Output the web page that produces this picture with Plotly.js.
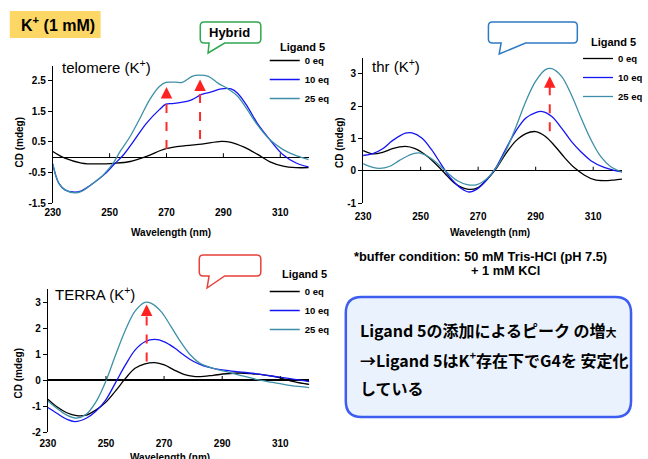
<!DOCTYPE html>
<html><head><meta charset="utf-8">
<script src="https://cdn.plot.ly/plotly-3.0.1.min.js"></script>
<style>html,body{margin:0;padding:0;background:#fff;}#chart{width:648px;height:459px;}</style>
</head><body><div id="chart"></div>
<script>
// ---------------- DATA ----------------
const seriesNames = ['0 eq', '10 eq', '25 eq'];
const legendTitle = 'Ligand 5';
const xTicks = [230, 250, 270, 290, 310];

// telomere (K+)
const telomereX0 = [230, 234.3, 240.1, 245.8, 251.5, 257.2, 263.0, 269.8, 276.7, 282.4, 289.3, 292.7, 297.3, 301.9, 306.4, 311.0, 315.6, 320];
const telomereY0 = [0.19, -0.03, -0.19, -0.22, -0.2, -0.14, 0.03, 0.28, 0.38, 0.43, 0.52, 0.49, 0.33, 0.1, -0.15, -0.29, -0.34, -0.34];
const telomereX10 = [230, 232.1, 234.3, 237.2, 240.1, 243.5, 248.1, 251.5, 254.9, 258.4, 263.0, 267.5, 269.8, 272.1, 276.7, 279.0, 282.4, 285.8, 289.3, 292.7, 295.0, 298.4, 301.9, 306.4, 311.0, 315.6, 320];
const telomereY10 = [-0.22, -0.85, -1.07, -1.14, -1.1, -0.9, -0.57, -0.24, 0.08, 0.52, 1.12, 1.56, 1.74, 1.76, 1.82, 1.89, 2.06, 2.14, 2.24, 2.24, 2.1, 1.67, 1.12, 0.57, 0.08, -0.19, -0.32];
const telomereX25 = [230, 232.1, 234.3, 237.8, 240.1, 243.5, 248.1, 251.5, 253.7, 257.2, 260.7, 264.1, 267.5, 269.8, 273.2, 275.5, 279.0, 281.3, 284.7, 288.1, 291.6, 295.0, 298.4, 301.9, 306.4, 311.0, 315.6, 320];
const telomereY25 = [-0.22, -0.85, -1.07, -1.17, -1.12, -0.9, -0.55, -0.16, 0.19, 0.68, 1.28, 1.89, 2.32, 2.45, 2.46, 2.45, 2.65, 2.69, 2.65, 2.43, 2.24, 2.0, 1.56, 1.07, 0.57, 0.25, 0.05, -0.08];
const telomereYTicks = [-1.5, -0.5, 0.5, 1.5, 2.5];
const telomereYTickText = ['-1.5', '-0.5', '0.5', '1.5', '2.5'];
const telomereArrowX = [270, 281.8];
const telomereArrowFrom = [0.27, 0.6];
const telomereArrowTo = [2.3, 2.55];

// thr (K+)
const thrX0 = [230, 233.4, 236.8, 240.2, 244.7, 248.1, 251.5, 254.9, 258.3, 261.7, 266.2, 269.6, 273.0, 276.4, 279.8, 283.2, 286.6, 290.0, 293.4, 296.8, 300.2, 303.6, 307.0, 310.4, 313.8, 317.2, 320];
const thrY0 = [0.62, 0.52, 0.57, 0.68, 0.75, 0.68, 0.5, 0.24, -0.07, -0.38, -0.57, -0.54, -0.28, 0.08, 0.55, 0.93, 1.15, 1.21, 1.06, 0.75, 0.39, 0.08, -0.14, -0.28, -0.31, -0.29, -0.26];
const thrX10 = [230, 233.4, 236.8, 240.2, 244.7, 247.0, 250.4, 253.8, 257.2, 260.6, 264.0, 266.8, 269.6, 273.0, 276.4, 279.8, 283.2, 286.6, 290.0, 292.3, 295.6, 299.0, 302.4, 305.8, 309.2, 313.8, 317.2, 320];
const thrY10 = [0.47, 0.53, 0.68, 0.93, 1.16, 1.17, 1.01, 0.65, 0.19, -0.25, -0.54, -0.66, -0.57, -0.28, 0.13, 0.7, 1.24, 1.63, 1.8, 1.83, 1.68, 1.32, 0.91, 0.58, 0.31, 0.1, 0.01, -0.04];
const thrX25 = [230, 233.4, 235.7, 239.1, 242.5, 245.8, 249.2, 252.6, 256.0, 259.4, 262.8, 266.2, 269.6, 273.0, 276.4, 279.8, 283.2, 286.6, 290.0, 293.4, 295.6, 299.0, 302.4, 305.8, 309.2, 312.6, 316.0, 320];
const thrY25 = [0.22, 0.1, 0.07, 0.13, 0.31, 0.47, 0.55, 0.44, 0.21, -0.07, -0.31, -0.43, -0.43, -0.25, 0.11, 0.65, 1.37, 2.15, 2.77, 3.13, 3.16, 2.92, 2.35, 1.63, 0.96, 0.44, 0.13, -0.04];
const thrYTicks = [-1, 0, 1, 2, 3];
const thrYTickText = ['-1', '0', '1', '2', '3'];
const thrArrowX = [294.9];
const thrArrowFrom = [1.22];
const thrArrowTo = [2.92];

// TERRA (K+)
const terraX0 = [230, 233.1, 236.5, 239.9, 243.2, 246.6, 249.9, 253.3, 256.7, 260.0, 263.4, 266.8, 270.1, 273.5, 276.8, 280.2, 283.6, 286.9, 291.4, 295.9, 300.4, 304.8, 309.3, 313.8, 318.3, 320];
const terraY0 = [-0.74, -1.03, -1.26, -1.37, -1.35, -1.15, -0.86, -0.42, 0.06, 0.45, 0.62, 0.67, 0.58, 0.38, 0.22, 0.14, 0.14, 0.18, 0.24, 0.27, 0.24, 0.19, 0.1, -0.04, -0.14, -0.17];
const terraX10 = [230, 233.1, 236.5, 239.3, 243.2, 246.6, 249.9, 253.3, 256.7, 260.0, 263.4, 266.8, 270.1, 273.5, 276.8, 280.2, 283.6, 286.9, 291.4, 295.9, 300.4, 304.8, 309.3, 313.8, 320];
const terraY10 = [-1.06, -1.28, -1.51, -1.6, -1.47, -1.19, -0.77, -0.1, 0.58, 1.15, 1.47, 1.56, 1.47, 1.24, 0.96, 0.71, 0.54, 0.45, 0.37, 0.31, 0.26, 0.19, 0.12, 0.04, -0.06];
const terraX25 = [230, 233.1, 236.5, 239.9, 243.2, 246.6, 249.9, 253.3, 256.7, 260.0, 263.4, 265.6, 269.0, 272.4, 275.7, 279.1, 282.4, 286.9, 291.4, 295.9, 300.4, 304.8, 309.3, 313.8, 320];
const terraY25 = [-0.81, -1.09, -1.35, -1.47, -1.32, -0.83, -0.06, 0.96, 1.92, 2.65, 2.99, 2.95, 2.63, 2.05, 1.47, 0.96, 0.64, 0.45, 0.32, 0.19, 0.06, -0.04, -0.13, -0.22, -0.29];
const terraYTicks = [-2, -1, 0, 1, 2, 3];
const terraYTickText = ['-2', '-1', '0', '1', '2', '3'];
const terraArrowX = [264];
const terraArrowFrom = [0.71];
const terraArrowTo = [2.9];

// ---------------- STYLE / LAYOUT ----------------
const W = 648, H = 459;
const px = x => x / W;
const py = y => 1 - y / H;
const FONT = 'Liberation Sans, Arial, Helvetica, sans-serif';
const JFONT = 'Noto Sans CJK JP, Noto Sans, sans-serif';
const colors = ['#000000', '#1414F5', '#3D90A8'];

function mkTraces(xs, ys, xa, ya, leg) {
  return xs.map((x, i) => ({
    type: 'scatter', mode: 'lines', x: x, y: ys[i], xaxis: xa, yaxis: ya,
    name: seriesNames[i], legend: leg,
    line: {color: colors[i], width: 1.3, shape: 'spline', smoothing: 1}
  }));
}

const data = [].concat(
  mkTraces([telomereX0, telomereX10, telomereX25], [telomereY0, telomereY10, telomereY25], 'x', 'y', 'legend'),
  mkTraces([thrX0, thrX10, thrX25], [thrY0, thrY10, thrY25], 'x2', 'y2', 'legend2'),
  mkTraces([terraX0, terraX10, terraX25], [terraY0, terraY10, terraY25], 'x3', 'y3', 'legend3')
);

const tickFont = {family: FONT, size: 10, color: '#000', weight: 'bold'};

function xAxis(d0, d1, anchor, ticklen) {
  return {domain: [px(d0), px(d1)], range: [230, 320], anchor: anchor,
    tickmode: 'array', tickvals: xTicks, showline: false, showgrid: false, zeroline: false,
    ticks: 'outside', ticklen: ticklen, tickcolor: 'rgba(0,0,0,0)', tickfont: tickFont, fixedrange: true};
}
function yAxis(top, bottom, range, tv, tt, anchor) {
  return {domain: [py(bottom), py(top)], range: range, anchor: anchor,
    tickmode: 'array', tickvals: tv, ticktext: tt, showline: true, linecolor: '#000', linewidth: 1,
    ticks: 'outside', ticklen: 4, tickcolor: '#000', showgrid: false,
    zeroline: true, zerolinecolor: '#000', zerolinewidth: 1.2, tickfont: tickFont, fixedrange: true};
}

const shapes = [];
const annotations = [];
function note(x, y, text, font, extra) {
  annotations.push(Object.assign({xref: 'paper', yref: 'paper', x: px(x), y: py(y), text: text, font: font,
    showarrow: false, xanchor: 'center', yanchor: 'middle'}, extra || {}));
}

// small ticks on the zero line
[['x', 'y'], ['x2', 'y2'], ['x3', 'y3']].forEach(([xa, ya]) => {
  xTicks.slice(1).forEach(t => shapes.push({type: 'line', xref: xa, yref: ya, ysizemode: 'pixel', yanchor: 0,
    x0: t, x1: t, y0: 0, y1: 4, line: {color: '#000', width: 1}}));
});

// red dashed arrows
function arrows(xs, from, to, xa, ya, unitPx) {
  xs.forEach((x, i) => {
    shapes.push({type: 'line', xref: xa, yref: ya, x0: x, x1: x, y0: from[i], y1: to[i] - 5 / unitPx,
      line: {color: '#FF2A2A', width: 2, dash: 'dash'}});
    annotations.push({xref: xa, yref: ya, x: x, y: to[i], ax: 0, ay: 9, text: '', showarrow: true,
      arrowhead: 2, arrowsize: 1.0, arrowwidth: 2.3, arrowcolor: '#FF2020'});
  });
}
arrows(telomereArrowX, telomereArrowFrom, telomereArrowTo, 'x', 'y', 30.5);
arrows(thrArrowX, thrArrowFrom, thrArrowTo, 'x2', 'y2', 32.3);
arrows(terraArrowX, terraArrowFrom, terraArrowTo, 'x3', 'y3', 26);

// path helpers (pixel -> paper)
const P = (x, y) => px(x).toFixed(5) + ',' + py(y).toFixed(5);
function calloutPath(x0, y0, x1, y1, r, tail) {
  let p = 'M' + P(x0 + r, y0) + ' L' + P(x1 - r, y0) + ' Q' + P(x1, y0) + ' ' + P(x1, y0 + r) +
    ' L' + P(x1, y1 - r) + ' Q' + P(x1, y1) + ' ' + P(x1 - r, y1);
  if (tail) p += ' L' + P(tail[1], y1) + ' L' + P(tail[2], tail[3]) + ' L' + P(tail[0], y1);
  p += ' L' + P(x0 + r, y1) + ' Q' + P(x0, y1) + ' ' + P(x0, y1 - r) + ' L' + P(x0, y0 + r) +
    ' Q' + P(x0, y0) + ' ' + P(x0 + r, y0) + ' Z';
  return p;
}

// K+ (1 mM) label box
shapes.push({type: 'rect', xref: 'paper', yref: 'paper', x0: px(10), x1: px(103), y0: py(38), y1: py(11),
  fillcolor: '#FDD766', line: {width: 0}, layer: 'below'});
note(19, 24, 'K<sup>+</sup> (1 mM)', {family: FONT, size: 16, color: '#000', weight: 'bold'}, {xanchor: 'left'});

// callouts
shapes.push({type: 'path', xref: 'paper', yref: 'paper', path: calloutPath(205, 22, 267, 43, 4, [214, 230, 213, 53]),
  fillcolor: '#FFFFFF', line: {color: '#2FA84F', width: 1.5}});
note(235, 32.5, 'Hybrid', {family: FONT, size: 13, color: '#000', weight: 'bold'});
shapes.push({type: 'path', xref: 'paper', yref: 'paper', path: calloutPath(500, 22, 591, 43, 4, [513, 538, 511, 54]),
  fillcolor: '#FFFFFF', line: {color: '#2E7BC4', width: 1.5}});
shapes.push({type: 'path', xref: 'paper', yref: 'paper', path: calloutPath(204, 255, 267, 276, 4, [214, 230, 212, 288]),
  fillcolor: '#FFFFFF', line: {color: '#E8403A', width: 1.5}});

// conclusion box
shapes.push({type: 'path', xref: 'paper', yref: 'paper', path: calloutPath(354, 297, 646, 417, 16, null),
  fillcolor: '#EAF3FD', line: {color: '#3D5CF0', width: 2.5}});
const jpFont = {family: JFONT, size: 16, color: '#000', weight: 'bold'};
note(366, 330, 'Ligand 5の添加によるピーク の増<span style="font-size:11px">大</span>', jpFont, {xanchor: 'left'});
note(366, 359, '→Ligand 5はK<sup>+</sup>存在下でG4を 安定化', jpFont, {xanchor: 'left'});
note(366, 388, 'している', jpFont, {xanchor: 'left'});

// buffer condition text
const bufFont = {family: FONT, size: 12.8, color: '#000', weight: 'bold'};
note(492, 256, '*buffer condition: 50 mM Tris-HCl (pH 7.5)', bufFont);
note(517, 270, '+ 1 mM KCl', bufFont);

// subplot titles
const titleFont = {family: FONT, size: 15, color: '#000'};
note(61, 67, 'telomere (K<sup>+</sup>)', titleFont, {xanchor: 'left'});
note(379, 65, 'thr (K<sup>+</sup>)', titleFont, {xanchor: 'left'});
note(54, 293, 'TERRA (K<sup>+</sup>)', titleFont, {xanchor: 'left'});

// axis titles
const axFont = {family: FONT, size: 10, color: '#000', weight: 'bold'};
[[20, 142], [348, 142], [18, 373]].forEach(([x, y]) => note(x, y, 'CD (mdeg)', axFont, {textangle: -90}));
[[175, 232], [502, 232], [174, 457]].forEach(([x, y]) => note(x, y, 'Wavelength (nm)', axFont));

// legend titles
const legTitleFont = {family: FONT, size: 11, color: '#000', weight: 'bold'};
[[285, 47], [603, 42], [287, 274]].forEach(([x, y]) => note(x, y, legendTitle, legTitleFont, {xanchor: 'left'}));

function legendBox(x, y) {
  return {x: px(x), y: py(y), xanchor: 'left', yanchor: 'top', bgcolor: 'rgba(0,0,0,0)', borderwidth: 0,
    font: {family: FONT, size: 9.5, color: '#000', weight: 'bold'}, itemwidth: 30, tracegroupgap: 0};
}

const layout = {
  width: W, height: H, margin: {l: 0, r: 0, t: 0, b: 0},
  paper_bgcolor: '#fff', plot_bgcolor: 'rgba(0,0,0,0)', showlegend: true,
  font: {family: FONT, color: '#000'},
  xaxis: xAxis(54, 316, 'y', 0),
  yaxis: yAxis(65.7, 203, [-1.5, 3.0], telomereYTicks, telomereYTickText, 'x'),
  xaxis2: xAxis(371.7, 636.7, 'y2', 4),
  yaxis2: yAxis(57.6, 203, [-1, 3.5], thrYTicks, thrYTickText, 'x2'),
  xaxis3: xAxis(49, 316.7, 'y3', 2),
  yaxis3: yAxis(289, 432, [-2, 3.5], terraYTicks, terraYTickText, 'x3'),
  legend: legendBox(271, 46),
  legend2: legendBox(592, 44),
  legend3: legendBox(271, 277),
  shapes: shapes, annotations: annotations
};

Plotly.newPlot('chart', data, layout, {staticPlot: true, displayModeBar: false});
</script></body></html>
